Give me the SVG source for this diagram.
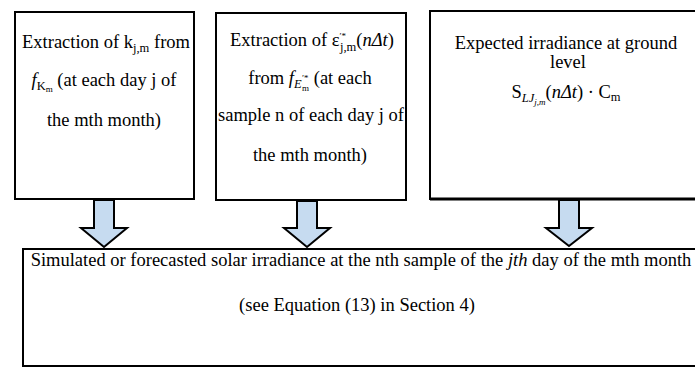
<svg xmlns="http://www.w3.org/2000/svg" width="695" height="368" viewBox="0 0 695 368">
<style>
.box{fill:#fff;stroke:#000;stroke-width:2}
.arr{fill:#c6dbf0;stroke:#000;stroke-width:2;stroke-linejoin:miter}
text{font-family:"Liberation Serif","Times New Roman",serif;font-size:18.5px;fill:#000}
.c{text-anchor:middle}
.i{font-style:italic}
.s{font-size:12.5px}
.ss{font-size:9px}
</style>
<rect width="695" height="368" fill="#fff"/>
<g id="node-k">
<rect class="box" x="15" y="12" width="179" height="187"/>
<text class="c" x="106" y="48">Extraction of k<tspan class="s" dy="4">j,m</tspan><tspan dy="-4"> from</tspan></text>
<text class="c" x="104" y="86"><tspan class="i">f</tspan><tspan class="s" dy="4">K</tspan><tspan class="ss" dy="2">m</tspan><tspan dy="-6">  (at each day j of</tspan></text>
<text class="c" x="104" y="126">the mth month)</text>
</g>
<g id="node-eps">
<rect class="box" x="216" y="13" width="190" height="187"/>
<text class="c" x="312" y="46">Extraction of ε<tspan class="ss" dy="-7">′*</tspan><tspan class="s" dx="-6" dy="12">j,m</tspan><tspan dy="-5">(</tspan><tspan class="i">nΔt</tspan>)</text>
<text class="c" x="310" y="84">from <tspan class="i">f</tspan><tspan class="s i" dy="4">E</tspan><tspan class="ss i" dy="-7">′*</tspan><tspan class="ss" dx="-6" dy="10">m</tspan><tspan dy="-7">   (at each</tspan></text>
<text class="c" x="311" y="121">sample n of each day j of</text>
<text class="c" x="310" y="161">the mth month)</text>
</g>
<g id="node-expected">
<rect class="box" x="430" y="11" width="275" height="188"/>
<line x1="430" y1="199" x2="695" y2="199" stroke="#000" stroke-width="3"/>
<text class="c" x="566" y="49">Expected irradiance at ground</text>
<text class="c" x="568" y="68">level</text>
<text class="c" x="566" y="98">S<tspan class="s i" dy="4">LJ</tspan><tspan class="ss i" dy="3">j,m</tspan><tspan dy="-7">(</tspan><tspan class="i">nΔt</tspan>) · C<tspan class="s" dy="3">m</tspan></text>
</g>
<g id="node-result">
<rect class="box" x="23" y="249" width="690" height="117"/>
<text class="c" x="361" y="266">Simulated or forecasted solar irradiance at the nth sample of the <tspan class="i">jth</tspan> day of the mth month</text>
<text class="c" x="357" y="311">(see Equation (13) in Section 4)</text>
</g>
<g id="connectors">
<polygon class="arr" points="94,200 114,200 114,228 127,228 104,247 81,228 94,228"/>
<polygon class="arr" points="297,201 317,201 317,228 330,228 307,247 284,228 297,228"/>
<polygon class="arr" points="559,200 579,200 579,228 592,228 569,246 546,228 559,228"/>
</g>
</svg>
